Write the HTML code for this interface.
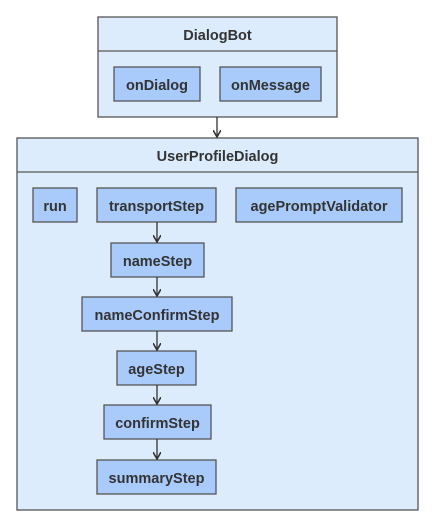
<!DOCTYPE html>
<html><head><style>html,body{margin:0;padding:0;background:#fff}</style></head><body>
<svg width="434" height="526" xmlns="http://www.w3.org/2000/svg" font-family="Liberation Sans, sans-serif" font-weight="bold" font-size="14.5" fill="#333">
<defs><marker id="a" markerWidth="8" markerHeight="8" refX="7" refY="4" orient="auto" markerUnits="userSpaceOnUse"><path d="M0,0 L7,4 L0,8" fill="none" stroke="#333" stroke-width="1.6"/></marker></defs>
<g stroke="#555" stroke-width="1.3">
<rect x="98" y="17" width="239" height="100" fill="#dcecfc"/>
<line x1="98" y1="51" x2="337" y2="51"/>
<rect x="17" y="138" width="401" height="372" fill="#dcecfc"/>
<line x1="17" y1="172" x2="418" y2="172"/>
<g fill="#a9cbfc">
<rect x="114" y="67" width="86" height="34"/>
<rect x="220" y="67" width="101" height="34"/>
<rect x="33" y="188" width="44" height="34"/>
<rect x="97" y="188" width="119" height="34"/>
<rect x="236" y="188" width="166" height="34"/>
<rect x="111" y="243" width="93" height="34"/>
<rect x="82" y="297" width="150" height="34"/>
<rect x="117" y="351" width="79" height="34"/>
<rect x="104" y="405" width="107" height="34"/>
<rect x="97" y="460" width="119" height="34"/>
</g></g>
<g stroke="#333" stroke-width="1.3" marker-end="url(#a)">
<line x1="217" y1="117" x2="217" y2="137"/>
<line x1="157" y1="222" x2="157" y2="242"/>
<line x1="157" y1="277" x2="157" y2="296"/>
<line x1="157" y1="331" x2="157" y2="350"/>
<line x1="157" y1="385" x2="157" y2="404"/>
<line x1="157" y1="439" x2="157" y2="459"/>
</g>
<g text-anchor="middle" stroke="none">
<text x="217.5" y="40">DialogBot</text>
<text x="157" y="90">onDialog</text>
<text x="270.5" y="90">onMessage</text>
<text x="217.5" y="161">UserProfileDialog</text>
<text x="55" y="211">run</text>
<text x="156.5" y="211">transportStep</text>
<text x="319" y="211">agePromptValidator</text>
<text x="157.5" y="266">nameStep</text>
<text x="157" y="320">nameConfirmStep</text>
<text x="156.5" y="374">ageStep</text>
<text x="157.5" y="428">confirmStep</text>
<text x="156.5" y="483">summaryStep</text>
</g>
</svg>
</body></html>
